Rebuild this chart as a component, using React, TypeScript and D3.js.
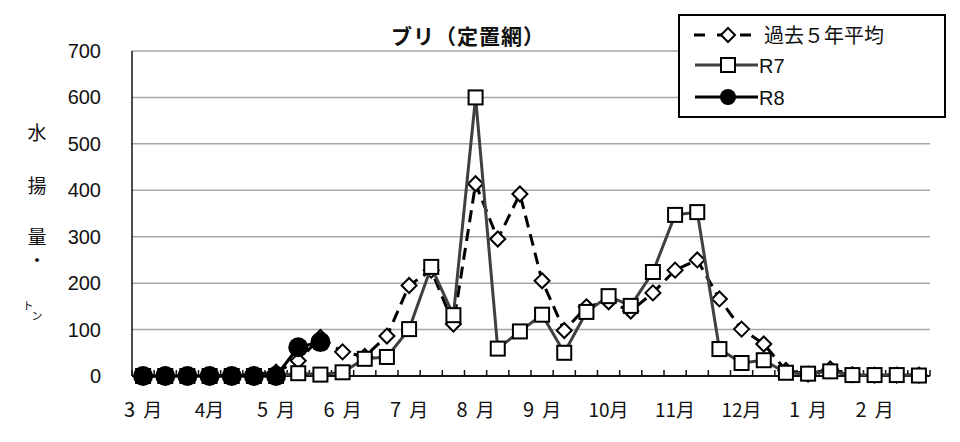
import React from "react";
import * as d3 from "d3";

const monthLabels = ["3 月", "4月", "5 月", "6 月", "7 月", "8 月", "9 月", "10月", "11月", "12月", "1 月", "2 月"];
const avg5 = [0, 0, 0, 0, 1, 3, 8, 33, 83, 52, 42, 86, 195, 228, 112, 414, 295, 392, 205, 98, 149, 160, 140, 179, 228, 250, 166, 101, 69, 12, 4, 15, 3, 2, 2, 2];
const r7 = [0, 0, 0, 0, 0, 0, 0, 6, 3, 8, 37, 41, 101, 235, 131, 600, 59, 96, 132, 50, 138, 172, 151, 224, 347, 353, 58, 28, 34, 7, 5, 10, 2, 2, 2, 1];
const r8 = [0, 0, 0, 0, 0, 0, 0, 62, 73];
const yTicks = [0, 100, 200, 300, 400, 500, 600, 700];
const yLabelChars = ["水", "揚", "量"];

const W = 960, H = 442;
const L = 132, R = 930, T = 51, B = 376;
const JP = "'Noto Sans CJK JP', sans-serif";
const NUM = "'Liberation Sans', Arial, sans-serif";

export default function App() {
  const idx = d3.range(r7.length);
  const x = d3.scaleBand<number>().domain(idx).range([L, R]).padding(0);
  const bw = x.bandwidth();
  const cx = (i: number) => (x(i) as number) + bw / 2;
  const y = d3.scaleLinear().domain([0, 700]).range([B, T]);
  const line = d3.line<number>().x((_, i) => cx(i)).y((v) => y(v));

  const diamond = (px: number, py: number, s: number) =>
    `M${px},${py - s}L${px + s},${py}L${px},${py + s}L${px - s},${py}Z`;

  return (
    <svg width={W} height={H} style={{ position: "absolute", left: 0, top: 0, background: "#fff" }}>
      <rect x={0} y={0} width={W} height={H} fill="#fff" />
      {/* gridlines */}
      {yTicks.filter((t) => t > 0).map((t) => (
        <line key={t} x1={L} x2={R} y1={y(t)} y2={y(t)} stroke="#a6a6a6" strokeWidth={1.5} />
      ))}
      {/* y tick labels */}
      {yTicks.map((t) => (
        <text key={t} x={101} y={y(t) + 7} textAnchor="end" fontFamily={NUM} fontSize={20} fill="#111">{t}</text>
      ))}
      {/* y axis label */}
      {yLabelChars.map((c, i) => (
        <text key={c} x={37} y={[140, 193, 244][i]} textAnchor="middle" fontFamily={JP} fontSize={19} fill="#111">{c}</text>
      ))}
      <text x={37} y={266} textAnchor="middle" fontFamily={JP} fontSize={15} fontWeight="bold" fill="#111">・</text>
      <text x={28} y={310} textAnchor="middle" fontFamily={JP} fontSize={11} fill="#111">ト</text>
      <text x={37} y={320} textAnchor="middle" fontFamily={JP} fontSize={11} fill="#111">ン</text>
      {/* axes */}
      <line x1={L} x2={L} y1={T} y2={B} stroke="#111" strokeWidth={1.5} />
      <line x1={L} x2={R} y1={B} y2={B} stroke="#111" strokeWidth={2} />
      {d3.range(r7.length + 1).map((i) => (
        <line key={i} x1={L + i * bw} x2={L + i * bw} y1={B} y2={B - 6} stroke="#111" strokeWidth={1.5} />
      ))}
      {monthLabels.map((m, k) => {
        const parts = m.split(" ");
        return (
          <text key={m} x={cx(k * 3)} y={417} textAnchor="middle" fontFamily={JP} fontSize={19} fill="#111">
            {parts.length > 1 ? (
              <>
                <tspan fontSize={20}>{parts[0]}</tspan>
                <tspan dx={8}>{parts[1]}</tspan>
              </>
            ) : (
              m
            )}
          </text>
        );
      })}
      {/* title */}
      <text x={468} y={44} textAnchor="middle" fontFamily={JP} fontWeight="bold" fontSize={21} letterSpacing={1} fill="#111">ブリ（定置網）</text>

      {/* 5-year average */}
      <path d={line(avg5) || ""} fill="none" stroke="#000" strokeWidth={3} strokeDasharray="12,7" />
      {avg5.map((v, i) => (
        <path key={i} d={diamond(cx(i), y(v), 7.5)} fill="#fff" stroke="#000" strokeWidth={2} />
      ))}
      {/* R7 */}
      <path d={line(r7) || ""} fill="none" stroke="#404040" strokeWidth={3} />
      {r7.map((v, i) => (
        <rect key={i} x={cx(i) - 7} y={y(v) - 7} width={14} height={14} fill="#fff" stroke="#000" strokeWidth={2} />
      ))}
      {/* R8 */}
      <path d={line(r8) || ""} fill="none" stroke="#000" strokeWidth={3} />
      {r8.map((v, i) => (
        <circle key={i} cx={cx(i)} cy={y(v)} r={10} fill="#000" />
      ))}

      {/* legend */}
      <rect x={679} y={15} width={266} height={102} fill="#fff" stroke="#000" strokeWidth={2} />
      <line x1={694} x2={752} y1={35} y2={35} stroke="#000" strokeWidth={3} strokeDasharray="11,12" />
      <path d={diamond(728, 35, 7)} fill="#fff" stroke="#000" strokeWidth={2} />
      <text x={764} y={43} fontFamily={JP} fontSize={20} fill="#111">過去５年平均</text>
      <line x1={695} x2={758} y1={65} y2={65} stroke="#404040" strokeWidth={3} />
      <rect x={721} y={58} width={14} height={14} fill="#fff" stroke="#000" strokeWidth={2} />
      <text x={759} y={73} fontFamily={NUM} fontSize={20} fill="#111">R7</text>
      <line x1={695} x2={758} y1={97} y2={97} stroke="#000" strokeWidth={3} />
      <circle cx={728} cy={97} r={8} fill="#000" />
      <text x={759} y={105} fontFamily={NUM} fontSize={20} fill="#111">R8</text>
    </svg>
  );
}
